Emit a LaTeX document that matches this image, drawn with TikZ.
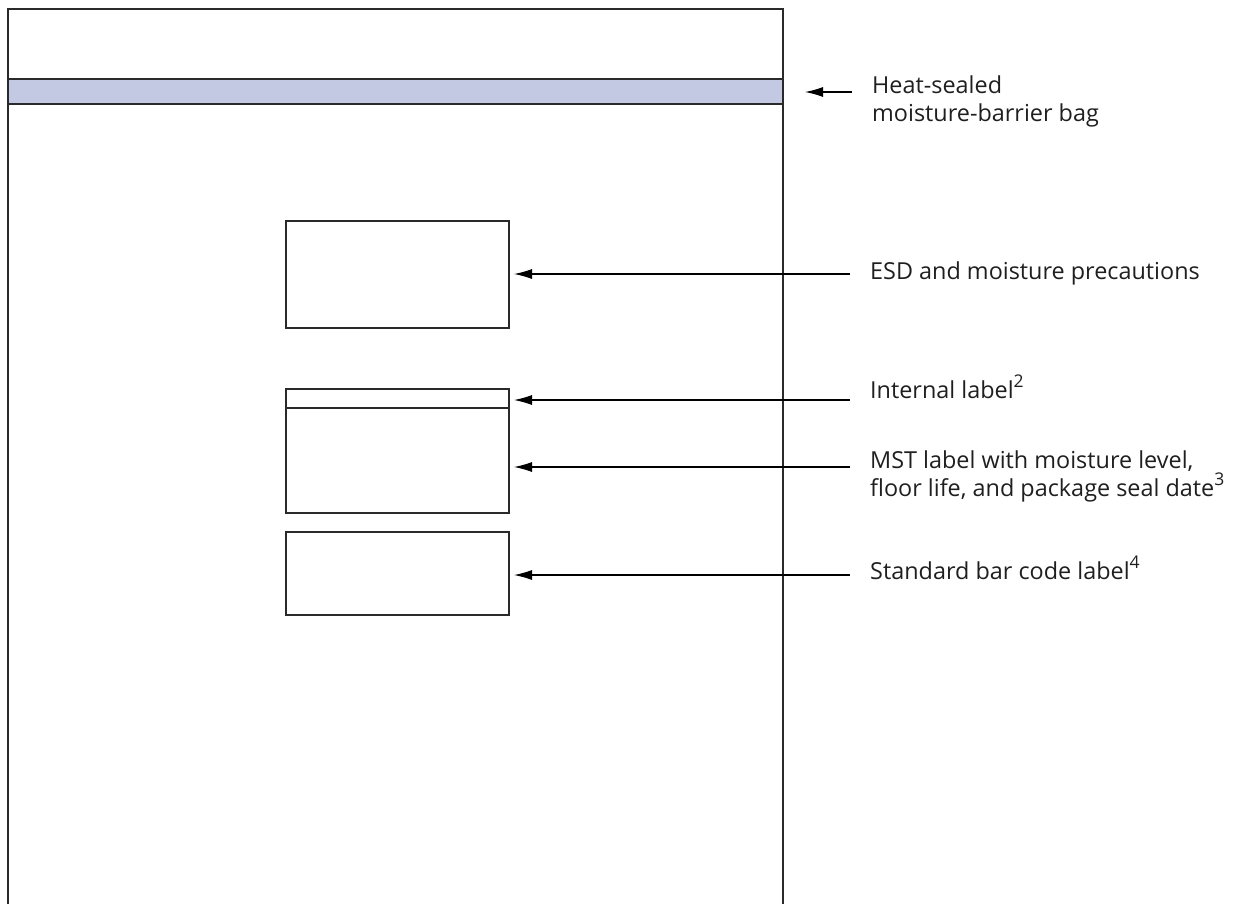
\documentclass[tikz,border=0pt]{standalone}
\usepackage{fontspec}
\setmainfont{Open Sans}
\usetikzlibrary{arrows.meta}
\definecolor{bandblue}{HTML}{C4C9E3}
\definecolor{linegray}{HTML}{2A2A2A}
\newcommand{\supnum}[1]{\raisebox{0.45em}{\fontsize{17.5}{17.5}\selectfont #1}}
\tikzset{
  lblbox/.style={draw=linegray, line width=1.4pt, minimum width=223pt, inner sep=0pt, outer sep=0pt},
  pointer/.style={-{Latex[length=18pt,width=10pt]}, line width=1.1pt, draw=black},
  caption/.style={anchor=base west, inner sep=0pt, font=\fontsize{23.4}{28}\selectfont, align=left, text=black!88}
}
\begin{document}
\begin{tikzpicture}[x=1pt,y=-1pt]
\useasboundingbox (0,0) rectangle (1255,903);
% bag
\fill[bandblue] (8,79) rectangle (783,104);
\draw[linegray, line width=1.4pt] (8,79) -- (783,79) (8,104) -- (783,104);
\draw[linegray, line width=1.5pt] (8,905) -- (8,9) -- (783,9) -- (783,905);
\coordinate (bagedge) at (783,92);
% boxes
\node[lblbox, minimum height=107pt] (esd) at (397.5,274.5) {};
\node[lblbox, minimum height=19pt] (intl) at (397.5,398.5) {};
\node[lblbox, minimum height=105pt] (mst) at (397.5,460.5) {};
\node[lblbox, minimum height=83pt] (bar) at (397.5,573.5) {};
% captions
\node[caption] (heat) at (872,121) {Heat-sealed\\moisture-barrier bag};
\node[caption] (esdt) at (870,279) {ESD and moisture precautions};
\node[caption] (intt) at (870,398) {Internal label\supnum{2}};
\node[caption] (mstt) at (870,496) {MST label with moisture level,\\floor life, and package seal date\supnum{3}};
\node[caption] (bart) at (870,579) {Standard bar code label\supnum{4}};
% arrow starts
\coordinate (a0) at (852,92);
\coordinate (a1) at (850,274);
\coordinate (a2) at (850,400);
\coordinate (a3) at (850,467);
\coordinate (a4) at (850,575);
\draw[pointer, shorten >=22pt] (a0) -- (bagedge);
\draw[pointer, shorten >=5pt] (a1) -- (esd.east |- a1);
\draw[pointer, shorten >=5pt] (a2) -- (intl.east |- a2);
\draw[pointer, shorten >=5pt] (a3) -- (mst.east |- a3);
\draw[pointer, shorten >=5pt] (a4) -- (bar.east |- a4);
\end{tikzpicture}
\end{document}
